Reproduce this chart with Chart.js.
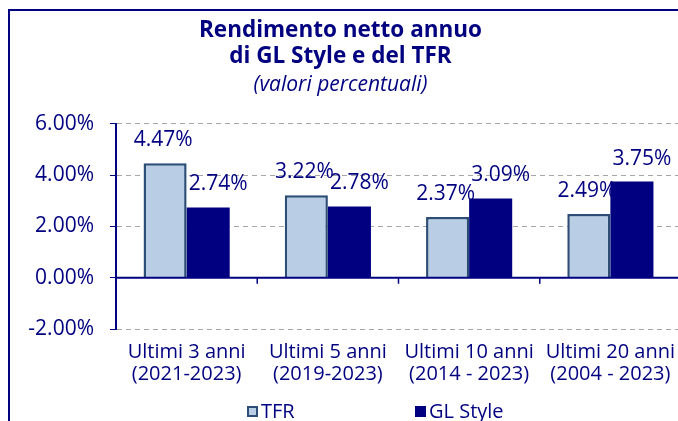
<!DOCTYPE html>
<html>
<head>
<meta charset="utf-8">
<script src="https://cdn.jsdelivr.net/npm/chart.js@4.4.0/dist/chart.umd.min.js"></script>
<style>
  html, body { margin: 0; padding: 0; background: #fff; overflow: hidden; }
  body { width: 678px; height: 421px; position: relative; }
  .frame { position: absolute; left: 8px; top: 9px; width: 700px; height: 450px; border-left: 2px solid #000080; border-top: 2px solid #000080; }
  #wrap { position: absolute; left: 0; top: 0; }
</style>
</head>
<body>
<div class="frame"></div>
<div id="wrap"><canvas id="returnsChart" width="710" height="421"></canvas></div>
<script>
const categories = [
    ['Ultimi 3 anni', '(2021-2023)'],
    ['Ultimi 5 anni', '(2019-2023)'],
    ['Ultimi 10 anni', '(2014 - 2023)'],
    ['Ultimi 20 anni', '(2004 - 2023)']
];
const tfrValues = [4.47, 3.22, 2.37, 2.49];
const glStyleValues = [2.74, 2.78, 3.09, 3.75];
const yTicks = [-2, 0, 2, 4, 6];

const NAVY = '#000080';
const TFR_FILL = '#b9cde5';
const TFR_BORDER = '#2c4d75';

Chart.defaults.font.family = "'Open Sans', sans-serif";
Chart.defaults.color = NAVY;

const pct = v => v.toFixed(2) + '%';

// zero line, category separators, value labels and the legend
const decorPlugin = {
    id: 'decor',
    afterDatasetsDraw(chart) {
        const { ctx, chartArea, scales } = chart;
        const y0 = scales.y.getPixelForValue(0);
        ctx.save();
        ctx.strokeStyle = NAVY;
        ctx.lineWidth = 2;
        ctx.beginPath();
        ctx.moveTo(chartArea.left, y0);
        ctx.lineTo(chartArea.right, y0);
        ctx.stroke();

        ctx.lineWidth = 1.5;
        for (let i = 1; i < categories.length; i++) {
            const bx = (scales.x.getPixelForTick(i - 1) + scales.x.getPixelForTick(i)) / 2;
            ctx.beginPath();
            ctx.moveTo(bx, y0);
            ctx.lineTo(bx, y0 + 6);
            ctx.stroke();
        }

        ctx.fillStyle = NAVY;
        ctx.font = "21px 'Open Sans', sans-serif";
        ctx.textAlign = 'center';
        ctx.textBaseline = 'middle';
        const shifts = [{ dx: -2, dy: 23 }, { dx: 10, dy: 23 }];
        chart.data.datasets.forEach((ds, di) => {
            chart.getDatasetMeta(di).data.forEach((bar, i) => {
                ctx.fillText(pct(ds.data[i]), bar.x + shifts[di].dx, bar.y - shifts[di].dy);
            });
        });
        ctx.restore();
    },
    afterDraw(chart) {
        const { ctx, chartArea } = chart;
        const items = chart.data.datasets;
        let lx = chartArea.left + 131;
        const ly = 412;
        ctx.save();
        ctx.font = "20px 'Open Sans', sans-serif";
        ctx.textBaseline = 'middle';
        ctx.textAlign = 'left';
        items.forEach(ds => {
            ctx.fillStyle = ds.backgroundColor;
            ctx.fillRect(lx, ly - 6, 11, 11);
            if (ds.borderWidth) {
                ctx.strokeStyle = ds.borderColor;
                ctx.lineWidth = 2;
                ctx.strokeRect(lx + 1, ly - 5, 9, 9);
            }
            ctx.fillStyle = NAVY;
            ctx.fillText(ds.label, lx + 14, ly);
            lx += 168;
        });
        ctx.restore();
    }
};

new Chart(document.getElementById('returnsChart'), {
    type: 'bar',
    data: {
        labels: categories,
        datasets: [{
            label: 'TFR',
            data: tfrValues,
            backgroundColor: TFR_FILL,
            borderColor: TFR_BORDER,
            borderWidth: 2.5
        }, {
            label: 'GL Style',
            data: glStyleValues,
            backgroundColor: NAVY,
            borderWidth: 0
        }]
    },
    options: {
        responsive: false,
        animation: false,
        categoryPercentage: 0.61,
        barPercentage: 1,
        layout: {
            padding: { left: 0, right: 29, top: 0, bottom: 24 }
        },
        scales: {
            x: {
                grid: { display: false, drawTicks: false },
                border: { display: false },
                ticks: {
                    font: { size: 20, lineHeight: 1.1 },
                    color: NAVY,
                    padding: 12,
                    maxRotation: 0
                }
            },
            y: {
                min: -2,
                max: 6,
                afterBuildTicks: s => { s.ticks = yTicks.map(v => ({ value: v })); },
                afterFit: s => { s.width = 116; },
                grid: {
                    color: '#a6a6a6',
                    tickColor: NAVY,
                    tickLength: 6,
                    tickBorderDash: [1, 0]
                },
                border: { color: NAVY, width: 2, dash: [5, 4] },
                ticks: {
                    font: { size: 21 },
                    color: NAVY,
                    padding: 16,
                    callback: v => pct(v)
                }
            }
        },
        plugins: {
            legend: { display: false },
            tooltip: { enabled: false },
            title: {
                display: true,
                text: ['Rendimento netto annuo', 'di GL Style e del TFR'],
                color: NAVY,
                font: { size: 22.5, weight: 'bold', lineHeight: 1.15 },
                padding: { top: 18, bottom: 0 }
            },
            subtitle: {
                display: true,
                text: '(valori percentuali)',
                color: NAVY,
                font: { size: 21, style: 'italic', weight: 'normal', lineHeight: 1.15 },
                padding: { top: 3, bottom: 27 }
            }
        }
    },
    plugins: [decorPlugin]
});
</script>
</body>
</html>
